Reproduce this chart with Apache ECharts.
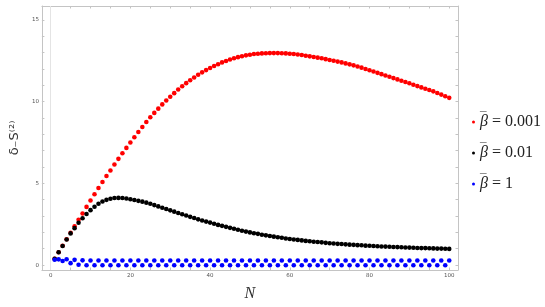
<!DOCTYPE html>
<html>
<head>
<meta charset="utf-8">
<script src="https://cdn.jsdelivr.net/npm/echarts@6/dist/echarts.min.js"></script>
<style>html,body{margin:0;padding:0;background:#fff;}#c{width:545px;height:307px;}</style>
</head>
<body>
<div id="c"></div>
<script>
var seriesNames = ['0.001', '0.01', '1'];
var redValues = [0.39,0.79,1.18,1.58,1.98,2.37,2.77,3.16,3.56,3.95,
4.33,4.72,5.08,5.45,5.79,6.15,6.50,6.84,7.17,7.50,
7.82,8.14,8.45,8.75,9.04,9.31,9.57,9.83,10.07,10.30,
10.52,10.74,10.94,11.13,11.31,11.48,11.64,11.79,11.93,12.06,
12.18,12.29,12.40,12.49,12.58,12.65,12.72,12.78,12.83,12.87,
12.91,12.93,12.95,12.96,12.97,12.97,12.97,12.96,12.95,12.93,
12.91,12.88,12.85,12.81,12.77,12.73,12.69,12.65,12.60,12.55,
12.50,12.45,12.40,12.34,12.28,12.22,12.15,12.08,12.00,11.92,
11.84,11.76,11.68,11.60,11.52,11.44,11.36,11.28,11.20,11.12,
11.03,10.95,10.87,10.79,10.71,10.63,10.53,10.43,10.33,10.23];
var blackValues = [0.38,0.79,1.17,1.57,1.94,2.26,2.59,2.87,3.13,3.36,
3.57,3.75,3.89,3.99,4.06,4.10,4.11,4.10,4.07,4.03,
3.98,3.93,3.88,3.82,3.75,3.67,3.59,3.51,3.43,3.35,
3.27,3.19,3.11,3.03,2.95,2.88,2.80,2.73,2.66,2.60,
2.53,2.46,2.40,2.34,2.28,2.22,2.16,2.10,2.05,2.00,
1.95,1.91,1.86,1.82,1.78,1.74,1.70,1.67,1.63,1.60,
1.57,1.54,1.51,1.48,1.46,1.43,1.41,1.39,1.36,1.34,
1.32,1.30,1.29,1.27,1.25,1.24,1.22,1.21,1.19,1.18,
1.17,1.15,1.14,1.13,1.12,1.11,1.10,1.09,1.08,1.07,
1.06,1.05,1.04,1.04,1.03,1.02,1.01,1.01,1.00,0.99];
var blueValues = [0.33,0.35,0.25,0.36,0.12,0.32,0.02,0.29,-0.01,0.28,
-0.01,0.28,-0.01,0.28,-0.01,0.28,-0.01,0.28,-0.01,0.28,
-0.01,0.28,-0.01,0.28,-0.01,0.28,-0.01,0.28,-0.01,0.28,
-0.01,0.28,-0.01,0.28,-0.01,0.28,-0.01,0.28,-0.01,0.28,
-0.01,0.28,-0.01,0.28,-0.01,0.28,-0.01,0.28,-0.01,0.28,
-0.01,0.28,-0.01,0.28,-0.01,0.28,-0.01,0.28,-0.01,0.28,
-0.01,0.28,-0.01,0.28,-0.01,0.28,-0.01,0.28,-0.01,0.28,
-0.01,0.28,-0.01,0.28,-0.01,0.28,-0.01,0.28,-0.01,0.28,
-0.01,0.28,-0.01,0.28,-0.01,0.28,-0.01,0.28,-0.01,0.28,
-0.01,0.28,-0.01,0.28,-0.01,0.28,-0.01,0.28,-0.01,0.28];
var xTickValues = [0,5,10,15,20,25,30,35,40,45,50,55,60,65,70,75,80,85,90,95,100];
var xLabelValues = [0,20,40,60,80,100];
var yTickValues = [0,1,2,3,4,5,6,7,8,9,10,11,12,13,14,15];
var yLabelValues = [0,5,10,15];

function pairs(vals){ return vals.map(function(v,i){ return [i+1, v]; }); }

var frameColor = '#c4c4c4';
var labelStyle = {fontSize: 5.5, color: '#555', fontFamily: 'DejaVu Sans'};

function xAx(pos, withLabel){
  return {type:'value', position: pos, min:-2.2, max:102.2,
    axisLine:{show:true, onZero:false, lineStyle:{color:frameColor, width:1}},
    axisTick:{show:true, inside:true, length:2.5, customValues:xTickValues, lineStyle:{color:frameColor}},
    axisLabel: withLabel ? Object.assign({show:true, margin:3, customValues:xLabelValues}, labelStyle) : {show:false},
    splitLine:{show:false},
    name: withLabel ? 'N' : '', nameLocation:'middle', nameGap:16,
    nameTextStyle:{fontFamily:'Liberation Serif', fontStyle:'italic', fontSize:16, color:'#333'}
  };
}
function yAx(pos, withLabel){
  return {type:'value', position: pos, min:-0.3, max:15.85,
    axisLine:{show:true, onZero:false, lineStyle:{color:frameColor, width:1}},
    axisTick:{show:true, inside:true, length:2.5, customValues:yTickValues, lineStyle:{color:frameColor}},
    axisLabel: withLabel ? Object.assign({show:true, margin:3, customValues:yLabelValues}, labelStyle) : {show:false},
    splitLine:{show:false},
    name: withLabel ? 'δ₋S⁽²⁾' : '', nameLocation:'middle', nameGap:8, nameRotate:90,
    nameTextStyle:{fontFamily:'DejaVu Sans', fontSize:13, color:'#333'}
  };
}

var chart = echarts.init(document.getElementById('c'));
var colors = ['#ff0000', '#000000', '#0000ff'];
chart.setOption({
  animation:false,
  grid:{left:27, right:87, top:6, bottom:35, containLabel:false},
  xAxis:[xAx('bottom', true), xAx('top', false)],
  yAxis:[yAx('left', true), yAx('right', false)],
  legend:{
    orient:'vertical', left:467, top:106, itemGap:12,
    icon:'circle', itemWidth:3, itemHeight:3,
    data: seriesNames,
    formatter: function(n){ return '{bar|¯}{i|β} = ' + n; },
    textStyle:{fontFamily:'Liberation Serif', fontSize:16, color:'#222',
      rich:{
        bar:{fontFamily:'Liberation Serif', fontSize:13, color:'#444', width:0, padding:[0,0,9,0]},
        i:{fontFamily:'Liberation Serif', fontStyle:'italic', fontSize:16, color:'#222'}
      }}
  },
  series:[
    {name:seriesNames[0], type:'scatter', data:pairs(redValues), symbolSize:4.6,
      itemStyle:{color:colors[0], opacity:1},
      markLine:{silent:true, symbol:'none', label:{show:false},
        lineStyle:{color:'#e4e4e4', width:1, type:'solid'}, data:[{xAxis:0}]}},
    {name:seriesNames[1], type:'scatter', data:pairs(blackValues), symbolSize:4.6, itemStyle:{color:colors[1], opacity:1}},
    {name:seriesNames[2], type:'scatter', data:pairs(blueValues), symbolSize:4.6, itemStyle:{color:colors[2], opacity:1}}
  ]
});
</script>
</body>
</html>
